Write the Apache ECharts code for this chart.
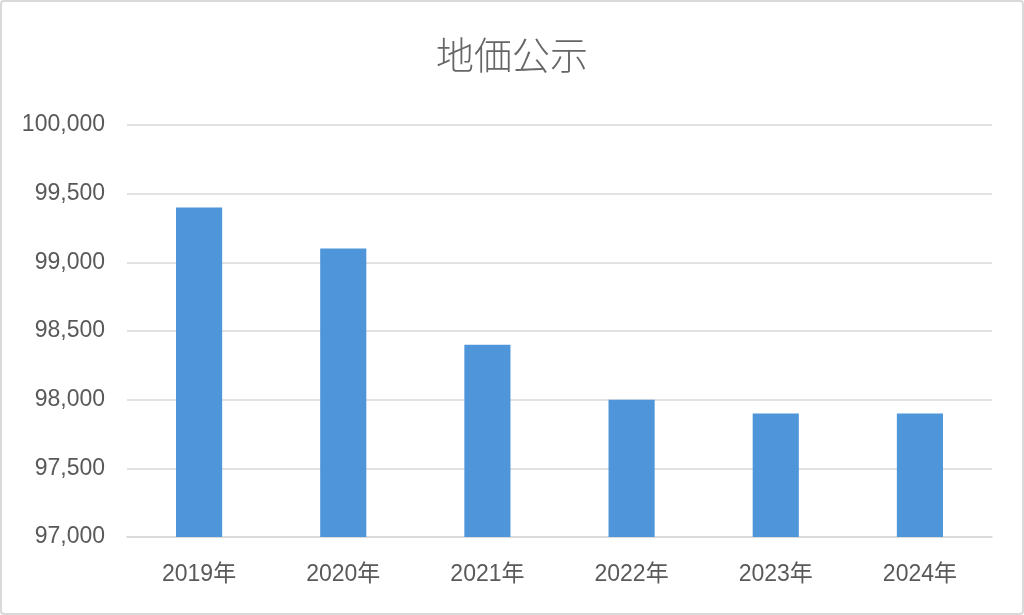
<!DOCTYPE html>
<html><head><meta charset="utf-8">
<script src="https://cdn.jsdelivr.net/npm/echarts@6/dist/echarts.min.js"></script>
<style>html,body{margin:0;padding:0;background:#fff}#c{width:1024px;height:615px;box-sizing:border-box;border:2px solid #d9d9d9;border-radius:4px}</style>
</head><body><div id="c"></div>
<script>
const title = '地価公示';
const categories = ['2019年','2020年','2021年','2022年','2023年','2024年'];
const values = [99400, 99100, 98400, 98000, 97900, 97900];
const yMin = 97000, yMax = 100000, yStep = 500;

const chart = echarts.init(document.getElementById('c'), null, {renderer:'canvas'});
const font = '"Liberation Sans","Noto Sans CJK JP",sans-serif';
chart.setOption({
  animation:false,
  textStyle:{fontFamily:font},
  title:{text:title,left:'center',top:29,textStyle:{fontFamily:'"Noto Sans CJK JP",sans-serif',fontSize:38,fontWeight:300,color:'#666666'}},
  grid:{left:125,right:30,top:123,bottom:76},
  xAxis:{type:'category',data:categories,
    axisLine:{lineStyle:{color:'#d9d9d9',width:1.5}},axisTick:{show:false},
    axisLabel:{color:'#595959',fontSize:23,margin:26,fontFamily:font}},
  yAxis:{type:'value',min:yMin,max:yMax,interval:yStep,
    axisLine:{show:false},axisTick:{show:false},
    splitLine:{lineStyle:{color:'#d9d9d9',width:1.5}},
    axisLabel:{color:'#595959',fontSize:23,margin:22,fontFamily:font,
      formatter:v=>v.toLocaleString('en-US')}},
  series:[{type:'bar',data:values,barWidth:'32%',itemStyle:{color:'#4e95d9'}}]
});
</script></body></html>
